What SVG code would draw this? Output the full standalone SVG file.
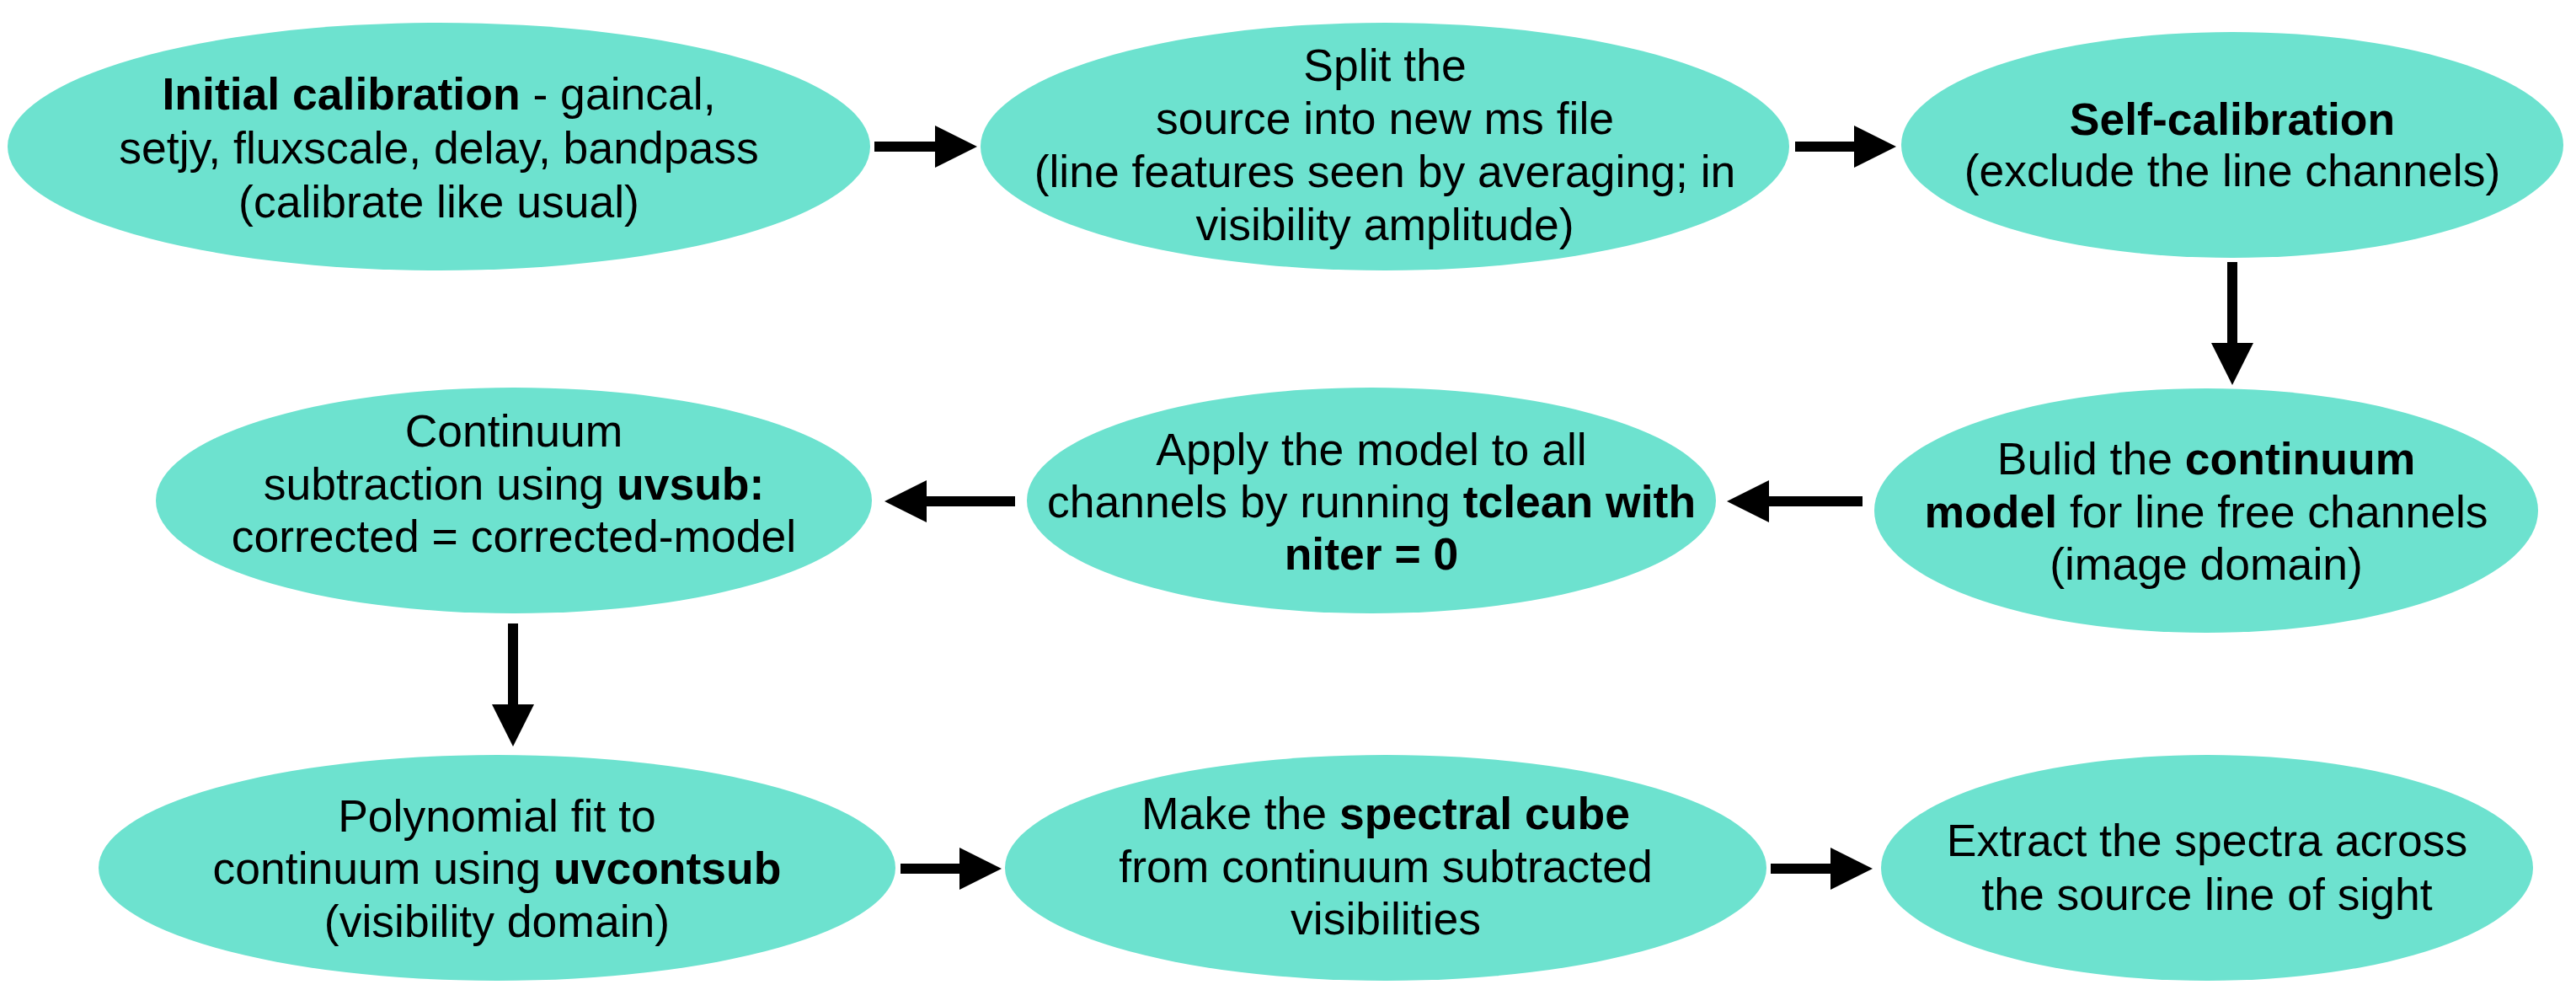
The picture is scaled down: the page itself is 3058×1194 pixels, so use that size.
<svg xmlns="http://www.w3.org/2000/svg" width="3058" height="1194" viewBox="0 0 3058 1194">
<style>
.node ellipse{fill:#6de2cf;}
.node text{font-family:"Liberation Sans",Arial,Helvetica,sans-serif;font-size:53.5px;fill:#000;text-anchor:middle;}
.b{font-weight:bold;}
.conn line{stroke:#000;stroke-width:12;fill:none;}
</style>
<defs>
<marker id="head" markerUnits="userSpaceOnUse" markerWidth="50" markerHeight="50" refX="0" refY="25" orient="auto" viewBox="0 0 50 50">
<path d="M0,0 L50,25 L0,50 z" fill="#000"/>
</marker>
</defs>
<rect width="3058" height="1194" fill="#fff"/>
<g id="n1" class="node">
<ellipse cx="521" cy="174" rx="512" ry="147"/>
<text x="521" y="130"><tspan class="b">Initial calibration</tspan> - gaincal,</text>
<text x="521" y="194">setjy, fluxscale, delay, bandpass</text>
<text x="521" y="258">(calibrate like usual)</text>
</g>
<g id="n2" class="node">
<ellipse cx="1644" cy="174" rx="480" ry="147"/>
<text x="1644" y="96">Split the</text>
<text x="1644" y="159">source into new ms file</text>
<text x="1644" y="222">(line features seen by averaging; in</text>
<text x="1644" y="285">visibility amplitude)</text>
</g>
<g id="n3" class="node">
<ellipse cx="2650" cy="172" rx="393" ry="134"/>
<text x="2650" y="160" class="b">Self-calibration</text>
<text x="2650" y="221">(exclude the line channels)</text>
</g>
<g id="n4" class="node">
<ellipse cx="2619" cy="606" rx="394" ry="145"/>
<text x="2619" y="563">Bulid the <tspan class="b">continuum</tspan></text>
<text x="2619" y="626"><tspan class="b">model</tspan> for line free channels</text>
<text x="2619" y="688">(image domain)</text>
</g>
<g id="n5" class="node">
<ellipse cx="1628" cy="594" rx="409" ry="134"/>
<text x="1628" y="552">Apply the model to all</text>
<text x="1628" y="614">channels by running <tspan class="b">tclean with</tspan></text>
<text x="1628" y="676" class="b">niter = 0</text>
</g>
<g id="n6" class="node">
<ellipse cx="610" cy="594" rx="425" ry="134"/>
<text x="610" y="530">Continuum</text>
<text x="610" y="593">subtraction using <tspan class="b">uvsub:</tspan></text>
<text x="610" y="655">corrected = corrected-model</text>
</g>
<g id="n7" class="node">
<ellipse cx="590" cy="1030" rx="473" ry="134"/>
<text x="590" y="987">Polynomial fit to</text>
<text x="590" y="1049">continuum using <tspan class="b">uvcontsub</tspan></text>
<text x="590" y="1112">(visibility domain)</text>
</g>
<g id="n8" class="node">
<ellipse cx="1645" cy="1030" rx="452" ry="134"/>
<text x="1645" y="984">Make the <tspan class="b">spectral cube</tspan></text>
<text x="1645" y="1047">from continuum subtracted</text>
<text x="1645" y="1109">visibilities</text>
</g>
<g id="n9" class="node">
<ellipse cx="2620" cy="1030" rx="387" ry="134"/>
<text x="2620" y="1016">Extract the spectra across</text>
<text x="2620" y="1080">the source line of sight</text>
</g>
<g id="connectors" class="conn">
<line x1="1038" y1="174" x2="1110" y2="174" marker-end="url(#head)"/>
<line x1="2131" y1="174" x2="2201" y2="174" marker-end="url(#head)"/>
<line x1="2650" y1="311" x2="2650" y2="407" marker-end="url(#head)"/>
<line x1="2211" y1="595" x2="2100" y2="595" marker-end="url(#head)"/>
<line x1="1205" y1="595" x2="1100" y2="595" marker-end="url(#head)"/>
<line x1="609" y1="740" x2="609" y2="836" marker-end="url(#head)"/>
<line x1="1069" y1="1031" x2="1139" y2="1031" marker-end="url(#head)"/>
<line x1="2102" y1="1031" x2="2173" y2="1031" marker-end="url(#head)"/>
</g>
</svg>
